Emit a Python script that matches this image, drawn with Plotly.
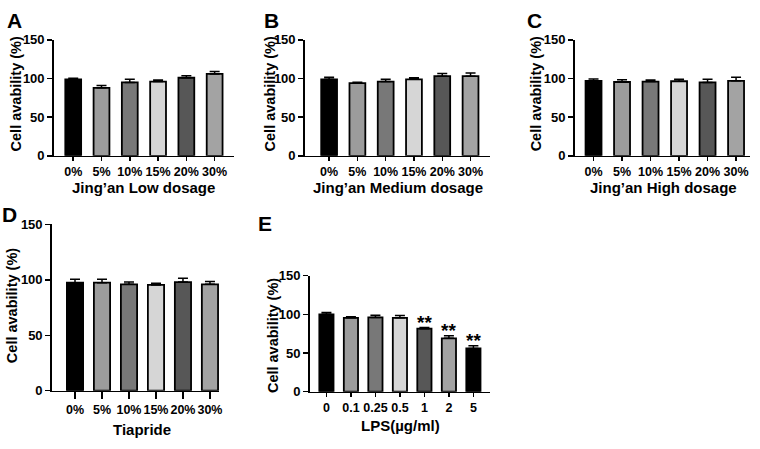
import plotly.graph_objects as go

# ---------------- data ----------------
dose_cats = ["0%", "5%", "10%", "15%", "20%", "30%"]
lps_cats = ["0", "0.1", "0.25", "0.5", "1", "2", "5"]

low_mean = [99, 88, 95, 96, 101, 106]
low_err = [1.5, 3, 4, 2, 2.5, 3]
med_mean = [99, 94, 96, 99, 103, 103]
med_err = [2.5, 1.2, 3, 2, 3.5, 4]
high_mean = [97, 95.5, 96, 96.5, 95, 97]
high_err = [2.5, 3, 2, 2.5, 4, 4.5]
tia_mean = [97.5, 97.5, 96, 95.5, 98, 96]
tia_err = [3, 3, 2, 1.5, 3.5, 2.5]
lps_mean = [100, 95.5, 96, 95.5, 81.5, 69, 56]
lps_err = [2.5, 1.5, 3, 3, 1.5, 3.5, 3.5]
lps_sig = ["", "", "", "", "**", "**", "**"]

panel_letters = ["A", "B", "C", "D", "E"]
x_titles = ["Jing’an Low dosage", "Jing’an Medium dosage", "Jing’an High dosage",
            "Tiapride", "LPS(µg/ml)"]
y_title = "Cell avability (%)"
y_ticks = [0, 50, 100, 150]

# ---------------- styling ----------------
dose_colors = ["#000000", "#9c9c9c", "#787878", "#d6d6d6", "#575757", "#a3a3a3"]
lps_colors = ["#000000", "#9c9c9c", "#787878", "#d6d6d6", "#575757", "#a3a3a3", "#000000"]

W, H = 760, 449
FONT = "Liberation Sans, Arial, sans-serif"


def xd(px):
    return px / W


def yd(py):
    return 1 - py / H


panels = [
    dict(x=(54, 235), y=(34, 154), r=(-0.687, 5.687), tl=4, bw=0.56,
         cats=dose_cats, m=low_mean, e=low_err, c=dose_colors,
         lab=(5, 14), yt=(16.5, 90), xt=(144.5, 187)),
    dict(x=(306, 492), y=(34, 154), r=(-0.86, 5.69), tl=4, bw=0.56,
         cats=dose_cats, m=med_mean, e=med_err, c=dose_colors,
         lab=(263, 14), yt=(271.5, 90), xt=(400, 187)),
    dict(x=(577, 753), y=(34, 154), r=(-0.66, 5.49), tl=4, bw=0.56,
         cats=dose_cats, m=high_mean, e=high_err, c=dose_colors,
         lab=(527, 14), yt=(538.5, 90), xt=(666, 187)),
    dict(x=(52, 220), y=(225, 397), r=(-0.86, 5.34), tl=7, bw=0.6,
         cats=dose_cats, m=tia_mean, e=tia_err, c=dose_colors,
         lab=(0, 215), yt=(11.5, 309), xt=(143, 437)),
    dict(x=(311, 492), y=(278, 398), r=(-0.68, 6.68), tl=4, bw=0.58,
         cats=lps_cats, m=lps_mean, e=lps_err, c=lps_colors,
         lab=(257, 224), yt=(273.5, 340), xt=(402, 433)),
]

fig = go.Figure()
annotations = []
layout = {}

for i, p in enumerate(panels):
    n = i + 1
    xa = "x" if n == 1 else f"x{n}"
    ya = "y" if n == 1 else f"y{n}"
    fig.add_trace(go.Bar(
        x=p["cats"], y=p["m"], xaxis=xa, yaxis=ya,
        width=p["bw"],
        marker=dict(color=p["c"], line=dict(color="#000000", width=1.8)),
        error_y=dict(type="data", array=p["e"], arrayminus=[0] * len(p["e"]),
                     symmetric=False, color="#000000", thickness=1.5, width=5),
        showlegend=False, hoverinfo="skip",
    ))
    xkey = "xaxis" if n == 1 else f"xaxis{n}"
    ykey = "yaxis" if n == 1 else f"yaxis{n}"
    layout[xkey] = dict(
        domain=[xd(p["x"][0]), xd(p["x"][1])], anchor=ya, type="category",
        range=list(p["r"]), showline=True, linecolor="#000000", linewidth=1.6,
        ticks="outside", ticklen=p["tl"], tickwidth=1.5, tickcolor="#000000",
        tickangle=0,
        tickfont=dict(family=FONT, size=12.5, color="#000000", weight="bold"),
        showgrid=False, zeroline=False, fixedrange=True,
    )
    layout[ykey] = dict(
        domain=[yd(p["y"][1]), yd(p["y"][0])], anchor=xa,
        range=[0, 150], tickvals=y_ticks, showline=True, linecolor="#000000",
        linewidth=1.6, ticks="outside", ticklen=5, tickwidth=1.5, tickcolor="#000000",
        tickfont=dict(family=FONT, size=13, color="#000000", weight="bold"),
        showgrid=False, zeroline=False, fixedrange=True,
    )
    annotations.append(dict(
        text=panel_letters[i], xref="paper", yref="paper",
        x=xd(p["lab"][0]), y=yd(p["lab"][1]), xanchor="left", yanchor="middle",
        showarrow=False, font=dict(family=FONT, size=21, color="#000000", weight="bold"),
    ))
    annotations.append(dict(
        text=y_title, xref="paper", yref="paper", textangle=-90,
        x=xd(p["yt"][0]), y=yd(p["yt"][1]), xanchor="center", yanchor="middle",
        showarrow=False, font=dict(family=FONT, size=14.5, color="#000000", weight="bold"),
    ))
    annotations.append(dict(
        text=x_titles[i], xref="paper", yref="paper",
        x=xd(p["xt"][0]), y=yd(p["xt"][1]), xanchor="center", yanchor="middle",
        showarrow=False, font=dict(family=FONT, size=15, color="#000000", weight="bold"),
    ))

# significance marks on panel E (category index positions)
for idx, (m, e, s) in enumerate(zip(lps_mean, lps_err, lps_sig)):
    if s:
        annotations.append(dict(
            text=s, xref="x5", yref="y5", x=idx, y=m + e,
            xanchor="center", yanchor="bottom", yshift=-7, showarrow=False,
            font=dict(family=FONT, size=19, color="#000000", weight="bold"),
        ))

fig.update_layout(
    width=W, height=H, margin=dict(l=0, r=0, t=0, b=0),
    paper_bgcolor="#ffffff", plot_bgcolor="#ffffff",
    annotations=annotations, bargap=0, **layout,
)

fig.write_html(
    "out.html",
    config={"displayModeBar": False, "staticPlot": True},
    post_script="document.body.style.margin='0';document.body.style.padding='0';"
                "document.body.style.overflow='hidden';",
)
